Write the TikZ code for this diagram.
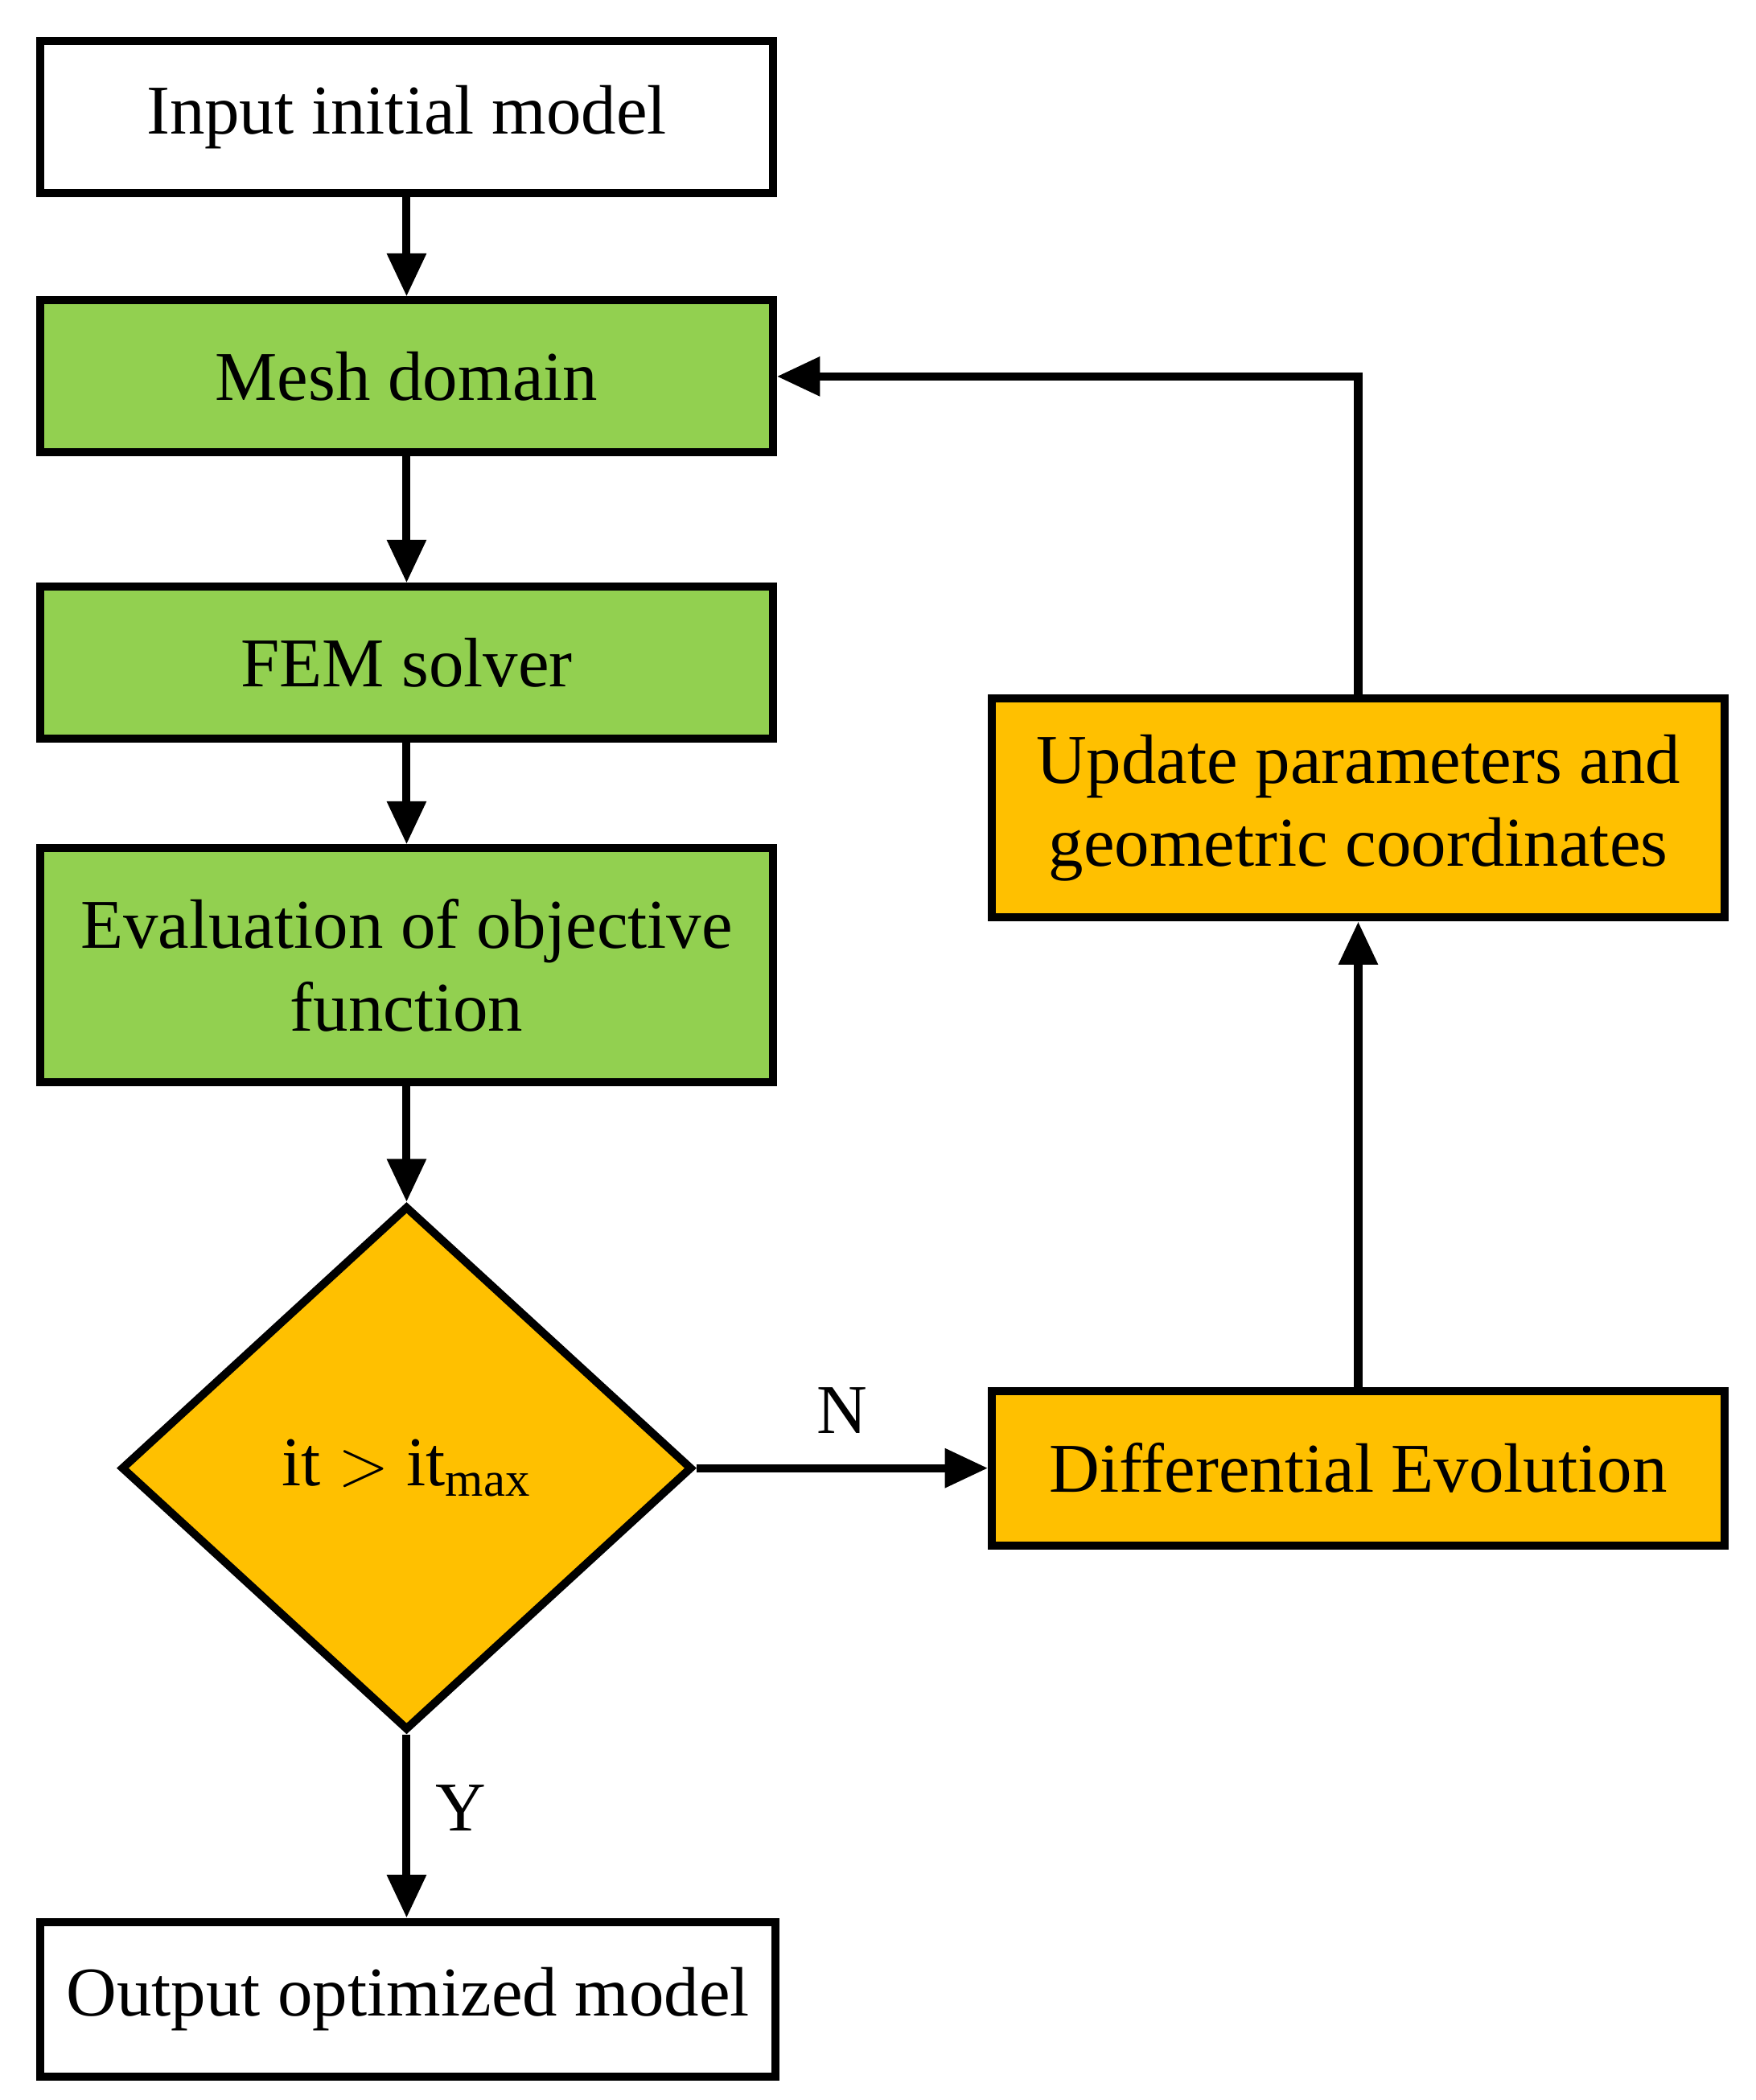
\documentclass[tikz,border=0pt]{standalone}
\usepackage{fontspec}
\setmainfont{Liberation Serif}
\usetikzlibrary{shapes.geometric,arrows.meta}
\definecolor{gr}{HTML}{92D050}
\definecolor{og}{HTML}{FFC000}
\begin{document}
\begin{tikzpicture}[x=0.5pt,y=-0.5pt,
 box/.style={draw,line width=3pt,minimum width=272.5pt,align=center,font=\fontsize{26}{31}\selectfont,inner sep=0pt},
 ar/.style={line width=3pt,-{Triangle[length=16pt,width=14pt]}},
 ln/.style={line width=3pt}]
\useasboundingbox (0,0) rectangle (1306,1562);
\node[box,fill=white,minimum height=56.5pt] (in) at (302.5,87) {Input initial model};
\node[box,fill=gr,minimum height=56.5pt] (mesh) at (302.5,280) {Mesh domain};
\node[box,fill=gr,minimum height=56.5pt] (fem) at (302.5,493) {FEM solver};
\node[box,fill=gr,minimum height=87pt] (ev) at (302.5,718) {Evaluation of objective\\function};
\node[draw,line width=3pt,fill=og,diamond,minimum width=212.5pt,minimum height=195pt,inner sep=0pt,font=\fontsize{26}{31}\selectfont] (d) at (302.5,1092) {it $>$ it\textsubscript{max}};
\node[box,fill=white,minimum height=57.5pt,minimum width=273.5pt] (out) at (303.5,1487) {Output optimized model};
\node[box,fill=og,minimum height=57.5pt] (de) at (1010.5,1092) {Differential Evolution};
\node[box,fill=og,minimum height=81.5pt] (up) at (1010.5,601) {Update parameters and\\geometric coordinates};
\draw[ar] (in) -- (mesh);
\draw[ar] (mesh) -- (fem);
\draw[ar] (fem) -- (ev);
\draw[ar] (ev) -- (d.north);
\draw[ar] (d.south) -- node[right,font=\fontsize{26}{31}\selectfont,pos=0.4,xshift=6pt]{Y} (out.north -| d.south);
\draw[ar] (d.east) -- node[above,font=\fontsize{26}{31}\selectfont,pos=0.5,yshift=8pt]{N} (de.west);
\draw[ar] (de) -- (up);
\draw[ar] (up.north) |- (mesh.east);
\end{tikzpicture}
\end{document}
